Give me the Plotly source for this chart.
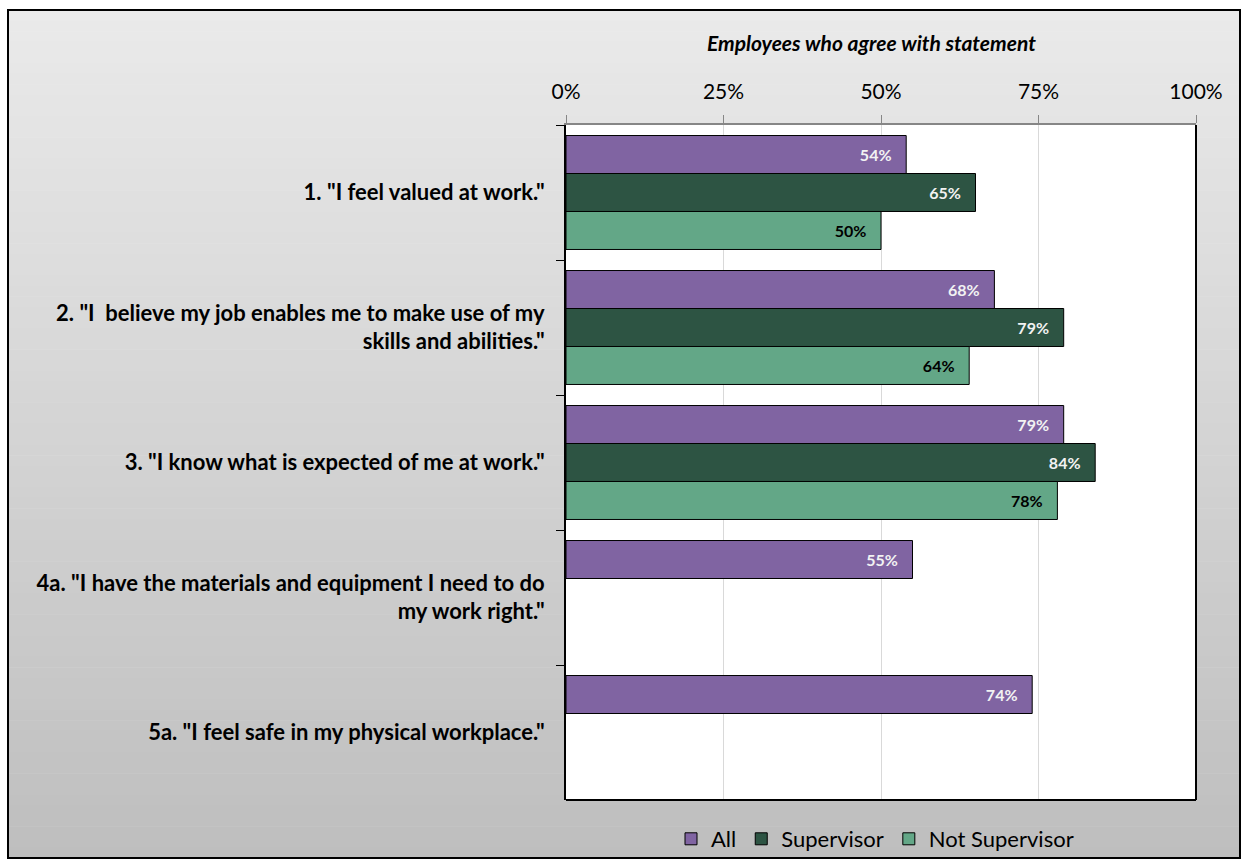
import plotly.graph_objects as go

categories = [
    '1. "I feel valued at work."',
    '2. "I  believe my job enables me to make use of my<br>skills and abilities."',
    '3. "I know what is expected of me at work."',
    '4a. "I have the materials and equipment I need to do<br>my work right."',
    '5a. "I feel safe in my physical workplace."',
]
all_vals = [54, 68, 79, 55, 74]
supervisor_vals = [65, 79, 84, None, None]
not_supervisor_vals = [50, 64, 78, None, None]
x_ticks = [0, 25, 50, 75, 100]

W, H = 1247, 865
L, R, T, B = 566, 1196, 125, 800  # plot area in pixels

def px(x):
    return (x - L) / (R - L)

def py(y):
    return (B - y) / (B - T)

FONT = "Lato"
PAD = "\u00a0\u00a0\u00a0"

def lbl(vals):
    return [("%d%%" % v + PAD) if v is not None else "" for v in vals]

fig = go.Figure()
series = [
    ("All", all_vals, "#8064a2", "#f2f2f2"),
    ("Supervisor", supervisor_vals, "#2d5443", "#f2f2f2"),
    ("Not Supervisor", not_supervisor_vals, "#63a787", "#000000"),
]
for name, vals, col, tcol in series:
    fig.add_trace(go.Bar(
        y=categories, x=vals, name=name, orientation="h",
        marker=dict(color=col, line=dict(color="#000000", width=1)),
        text=lbl(vals), textposition="inside", insidetextanchor="end",
        textfont=dict(family=FONT, size=16, color=tcol, weight="bold"),
        cliponaxis=False,
    ))

shapes = []
# gradient background strips
y0, y1 = 10, 858
n = 80
c_top, c_bot = 234, 190
for i in range(n):
    a = y0 + (y1 - y0) * i / n
    b = y0 + (y1 - y0) * (i + 1) / n
    c = int(round(c_top + (c_bot - c_top) * (i + 0.5) / n))
    shapes.append(dict(type="rect", xref="paper", yref="paper",
                       x0=px(8), x1=px(1240), y0=py(a), y1=py(b + 0.6),
                       fillcolor="rgb(%d,%d,%d)" % (c, c, c), line=dict(width=0), layer="below"))
# white plot area
shapes.append(dict(type="rect", xref="paper", yref="paper", x0=0, x1=1, y0=0, y1=1,
                   fillcolor="white", line=dict(width=0), layer="below"))
# plot area border bottom and right
shapes.append(dict(type="line", xref="paper", yref="paper", x0=0, x1=1, y0=0, y1=0,
                   line=dict(color="black", width=2), layer="above"))
shapes.append(dict(type="line", xref="paper", yref="paper", x0=1, x1=1, y0=0, y1=1,
                   line=dict(color="black", width=2), layer="above"))
# outer border
shapes.append(dict(type="rect", xref="paper", yref="paper",
                   x0=px(8), x1=px(1240), y0=py(10), y1=py(858),
                   line=dict(color="black", width=2), fillcolor="rgba(0,0,0,0)", layer="above"))

fig.update_layout(
    width=W, height=H,
    margin=dict(l=L, r=W - R, t=T, b=H - B, autoexpand=False),
    paper_bgcolor="white", plot_bgcolor="white",
    barmode="group", bargap=0.156, bargroupgap=0,
    shapes=shapes,
    font=dict(family=FONT, color="#000000"),
    showlegend=True,
    legend=dict(orientation="h", x=px(875), xanchor="center", y=py(839), yanchor="middle",
                font=dict(family=FONT, size=22, color="#000000"), bgcolor="rgba(0,0,0,0)",
                traceorder="normal", itemwidth=30),
    annotations=[dict(text="<b><i>Employees who agree with statement</i></b>",
                      xref="paper", yref="paper", x=px(871), y=py(42),
                      showarrow=False, font=dict(family=FONT, size=21, color="#000000"),
                      xanchor="center", yanchor="middle")],
)
fig.update_xaxes(
    side="top", range=[0, 100], tickvals=x_ticks, ticktext=["%d%%" % v for v in x_ticks],
    showgrid=True, gridcolor="#d9d9d9", gridwidth=1,
    showline=True, linecolor="#868686", linewidth=2,
    ticks="outside", ticklen=8, tickcolor="#868686", tickwidth=1,
    tickfont=dict(family=FONT, size=21, color="#000000"),
    ticklabelstandoff=8, automargin=False,
    zeroline=False, fixedrange=True,
)
fig.update_yaxes(
    autorange="reversed", showline=True, linecolor="#000000", linewidth=2,
    ticks="outside", ticklen=8, tickcolor="#000000", tickson="boundaries",
    tickfont=dict(family=FONT, size=22, color="#000000", weight="bold"),
    ticklabelstandoff=15, automargin=False,
    showgrid=False, fixedrange=True,
)

fig.write_html("out.html")
